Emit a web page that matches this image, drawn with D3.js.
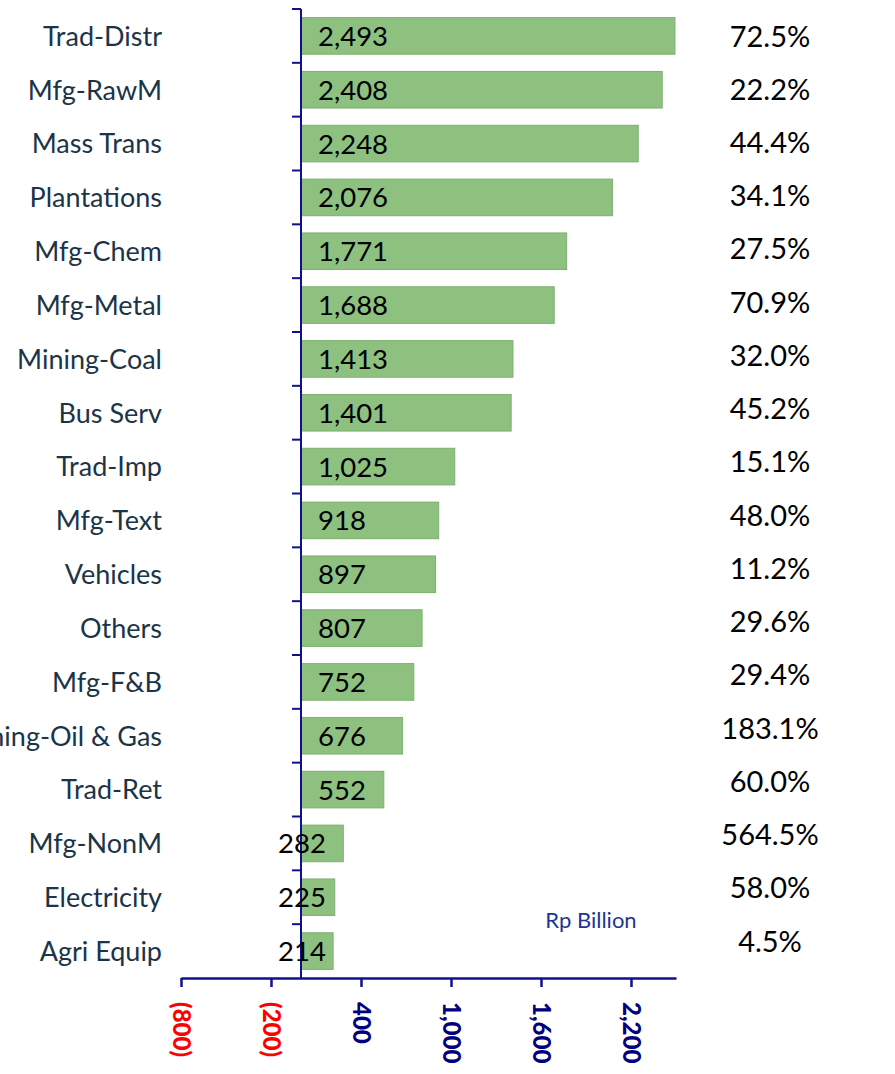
<!DOCTYPE html>
<html>
<head>
<meta charset="utf-8">
<script src="https://cdn.jsdelivr.net/npm/d3@7"></script>
<style>
  body { margin: 0; background: #fff; }
  text { font-family: Lato, "Open Sans", sans-serif; }
</style>
</head>
<body>
<script>
// sectors, loan values (Rp billion) and growth column
var categories = ["Trad-Distr", "Mfg-RawM", "Mass Trans", "Plantations", "Mfg-Chem", "Mfg-Metal",
    "Mining-Coal", "Bus Serv", "Trad-Imp", "Mfg-Text", "Vehicles", "Others", "Mfg-F&B",
    "Mining-Oil & Gas", "Trad-Ret", "Mfg-NonM", "Electricity", "Agri Equip"];
var values = [2493, 2408, 2248, 2076, 1771, 1688, 1413, 1401, 1025, 918, 897, 807, 752, 676, 552, 282, 225, 214];
var growth = ["72.5%", "22.2%", "44.4%", "34.1%", "27.5%", "70.9%", "32.0%", "45.2%", "15.1%", "48.0%",
    "11.2%", "29.6%", "29.4%", "183.1%", "60.0%", "564.5%", "58.0%", "4.5%"];
var xTicks = [-800, -200, 400, 1000, 1600, 2200];
var unitLabel = "Rp Billion";

var W = 895, H = 1074;
var navy = "#10108c";

var svg = d3.select("body").append("svg")
    .attr("width", W)
    .attr("height", H);

var x = d3.scaleLinear()
    .domain([-800, 2500])
    .range([181, 676]);

var y = d3.scaleBand()
    .domain(categories)
    .range([9, 978])
    .paddingInner(0.32)
    .paddingOuter(0.16);

// growth column has its own spacing
var yPct = d3.scalePoint()
    .domain(categories)
    .range([36, 941]);

var fmt = d3.format(",");

// bars
svg.append("g").selectAll("rect")
    .data(values)
    .enter().append("rect")
    .attr("x", x(0))
    .attr("y", function (d, i) { return y(categories[i]); })
    .attr("width", function (d) { return x(d) - x(0); })
    .attr("height", y.bandwidth())
    .style("fill", "#8ec180")
    .style("stroke", "#7cb06e")
    .style("stroke-width", 1);

// x axis
var xAxis = svg.append("g")
    .attr("transform", "translate(0,978)")
    .call(d3.axisBottom(x)
        .tickValues(xTicks)
        .tickSize(9)
        .tickSizeOuter(0)
        .tickFormat(function (d) { return d < 0 ? "(" + fmt(-d) + ")" : fmt(d); }));
xAxis.select(".domain").attr("stroke", navy).attr("stroke-width", 2.5);
xAxis.selectAll(".tick line").attr("stroke", navy).attr("stroke-width", 2.5);
xAxis.selectAll(".tick text")
    .attr("transform", "translate(0,24) rotate(90)")
    .attr("x", 0)
    .attr("y", 0)
    .attr("dy", "0.36em")
    .style("text-anchor", "start")
    .style("font-size", "24px")
    .style("font-weight", "900")
    .style("fill", function (d) { return d < 0 ? "#ff0000" : "#000080"; });

// y axis line at zero, with ticks on the band boundaries
var half = y.step() * y.paddingInner() / 2;
svg.append("line")
    .attr("x1", x(0)).attr("x2", x(0))
    .attr("y1", y(categories[0]) - half).attr("y2", 978)
    .attr("stroke", navy).attr("stroke-width", 2);
svg.append("g").selectAll("line")
    .data(categories)
    .enter().append("line")
    .attr("x1", x(0) - 9).attr("x2", x(0))
    .attr("y1", function (d) { return y(d) - half; })
    .attr("y2", function (d) { return y(d) - half; })
    .attr("stroke", navy).attr("stroke-width", 2);

// category labels
svg.append("g").selectAll("text")
    .data(categories)
    .enter().append("text")
    .attr("x", 162)
    .attr("y", function (d) { return y(d) + y.bandwidth() / 2 + 9.8; })
    .style("text-anchor", "end")
    .style("font-size", "27px")
    .style("fill", "#1b3448")
    .text(function (d) { return d; });

// value labels
svg.append("g").selectAll("text")
    .data(values)
    .enter().append("text")
    .attr("x", function (d) { return d < 400 ? x(0) + 1 : x(0) + 17; })
    .attr("y", function (d, i) { return y(categories[i]) + y.bandwidth() / 2 + 10; })
    .style("text-anchor", function (d) { return d < 400 ? "middle" : "start"; })
    .style("font-size", "27.5px")
    .style("fill", "#000")
    .text(function (d) { return fmt(d); });

// growth column
svg.append("g").selectAll("text")
    .data(growth)
    .enter().append("text")
    .attr("x", 770)
    .attr("y", function (d, i) { return yPct(categories[i]) + 10.5; })
    .style("text-anchor", "middle")
    .style("font-size", "29px")
    .style("fill", "#000")
    .text(function (d) { return d; });

svg.append("text")
    .attr("x", 591)
    .attr("y", 928)
    .style("text-anchor", "middle")
    .style("font-size", "22px")
    .style("fill", "#1f3596")
    .text(unitLabel);
</script>
</body>
</html>
